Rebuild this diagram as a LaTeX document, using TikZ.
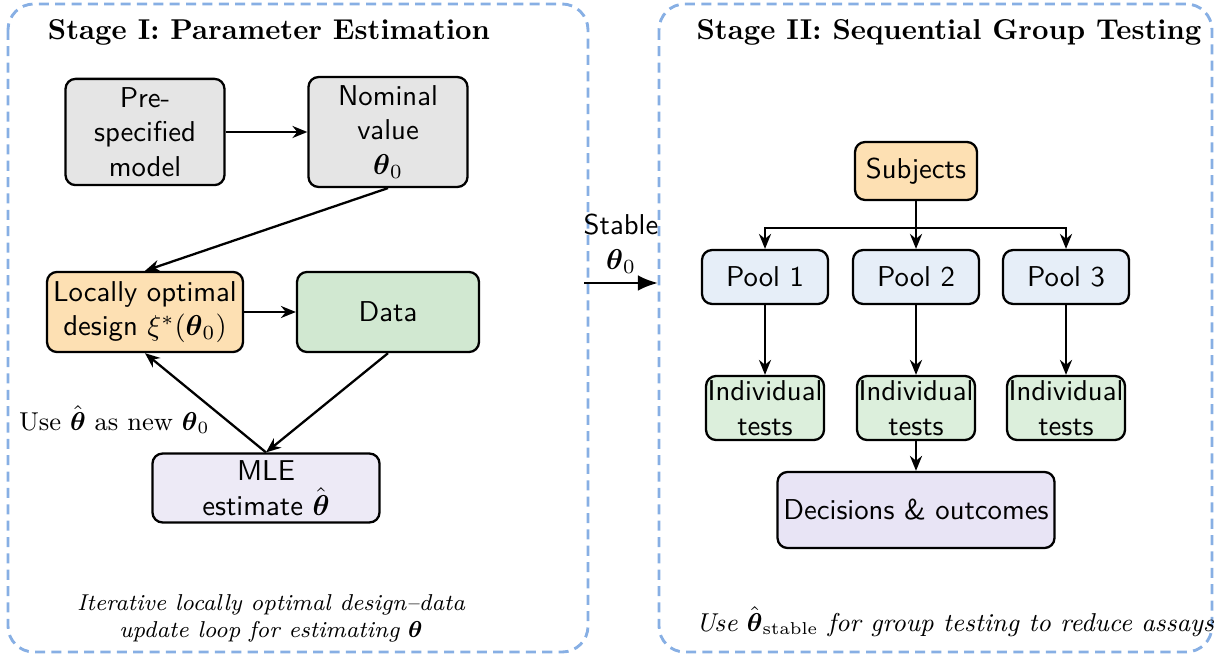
\documentclass[tikz,border=0pt]{standalone}
\usepackage{amsmath}
\usetikzlibrary{arrows.meta}

\definecolor{boxgray}{RGB}{229,229,229}
\definecolor{boxorange}{RGB}{253,224,179}
\definecolor{boxgreen}{RGB}{209,232,209}
\definecolor{testgreen}{RGB}{220,239,220}
\definecolor{boxpurple}{RGB}{237,234,246}
\definecolor{decpurple}{RGB}{232,228,245}
\definecolor{boxblue}{RGB}{230,238,248}
\definecolor{framecol}{RGB}{135,175,228}

\tikzset{
	box/.style={draw, thick, rounded corners=3.5pt, align=center, font=\sffamily, inner sep=1pt},
	arr/.style={-{Stealth[length=5.2pt, width=4.2pt]}, thick},
	stageframe/.style={draw=framecol, line width=1pt, dash pattern=on 3.5pt off 2.2pt, rounded corners=9pt}
}

\begin{document}
\begin{tikzpicture}[x=0.3484pt, y=-0.3484pt]
		\useasboundingbox (0, 0) rectangle (1218, 655);

		% 二つの枠を描画
		\draw[stageframe] (8, 4) rectangle (588, 652);
		\draw[stageframe] (659, 4) rectangle (1212, 652);
		\node[font=\bfseries] (title1) at (269, 32) {Stage I: Parameter Estimation};
		\node[font=\bfseries] (title2) at (949, 32) {Stage II: Sequential Group Testing};

		% Stage I の箱を描画
		\node[box, fill=boxgray, minimum width=55.4pt, minimum height=37pt] (pre) at (145, 132) {Pre-\\specified\\model};
		\node[box, fill=boxgray, minimum width=55.4pt, minimum height=38.3pt] (nom) at (388, 132) {Nominal\\value\\$\boldsymbol{\theta}_0$};
		\node[box, fill=boxorange, minimum width=68.3pt, minimum height=27.9pt] (design) at (145, 312) {Locally optimal\\design $\xi^*(\boldsymbol{\theta}_0)$};
		\node[box, fill=boxgreen, minimum width=63.4pt, minimum height=27.9pt] (data) at (388, 312) {Data};
		\node[box, fill=boxpurple, minimum width=79.1pt, minimum height=24pt] (mle) at (266, 488) {MLE\\estimate $\hat{\boldsymbol{\theta}}$};

		% Stage I の矢印を描画
		\draw[arr] (pre) -- (nom);
		\draw[arr] (nom.south) -- (design.north);
		\draw[arr] (design) -- (data);
		\draw[arr] (data.south) -- (mle.north);
		\draw[arr] (mle.north) -- node[pos=0.33, left, font=\small, xshift=-2pt] {Use $\hat{\boldsymbol{\theta}}$ as new $\boldsymbol{\theta}_0$} (design.south);

		\node[font=\footnotesize\itshape, align=center] (cap1) at (271, 618) {Iterative locally optimal design--data\\update loop for estimating $\boldsymbol{\theta}$};

		% Stable の矢印と文字を描画
		\coordinate (stA) at (584, 283);
		\coordinate (stB) at (658, 283);
		\draw[-{Latex[length=7pt, width=5.5pt]}, line width=1pt] (stA) -- (stB);
		\node[font=\sffamily, align=center, inner sep=0pt] (stable) at (621, 244) {Stable\\$\boldsymbol{\theta}_0$};

		% Stage II の箱を描画
		\node[box, fill=boxorange, minimum width=42.5pt, minimum height=20.2pt] (subj) at (916, 171) {Subjects};
		\node[box, fill=boxblue, minimum width=43.9pt, minimum height=18.8pt] (pool1) at (765, 277) {Pool 1};
		\node[box, fill=boxblue, minimum width=43.9pt, minimum height=18.8pt] (pool2) at (916, 277) {Pool 2};
		\node[box, fill=boxblue, minimum width=43.9pt, minimum height=18.8pt] (pool3) at (1066, 277) {Pool 3};
		\node[box, fill=testgreen, inner sep=0.3pt, minimum width=41.1pt, minimum height=22.3pt] (test1) at (765, 408) {Individual\\tests};
		\node[box, fill=testgreen, inner sep=0.3pt, minimum width=41.1pt, minimum height=22.3pt] (test2) at (916, 408) {Individual\\tests};
		\node[box, fill=testgreen, inner sep=0.3pt, minimum width=41.1pt, minimum height=22.3pt] (test3) at (1066, 408) {Individual\\tests};
		\node[box, fill=decpurple, minimum width=96.5pt, minimum height=26.5pt] (dec) at (916, 510) {Decisions \& outcomes};

		% Stage II の矢印を描画
		\coordinate (split) at (916, 228);
		\draw[arr] (subj) -- (pool2);
		\draw[arr] (split) -| (pool1);
		\draw[arr] (split) -| (pool3);
		\draw[arr] (pool1) -- (test1);
		\draw[arr] (pool2) -- (test2);
		\draw[arr] (pool3) -- (test3);
		\draw[arr] (test2) -- (dec);

		\node[font=\small\itshape] (cap2) at (955, 622) {Use $\hat{\boldsymbol{\theta}}_{\mathrm{stable}}$ for group testing to reduce assays};
\end{tikzpicture}
\end{document}
